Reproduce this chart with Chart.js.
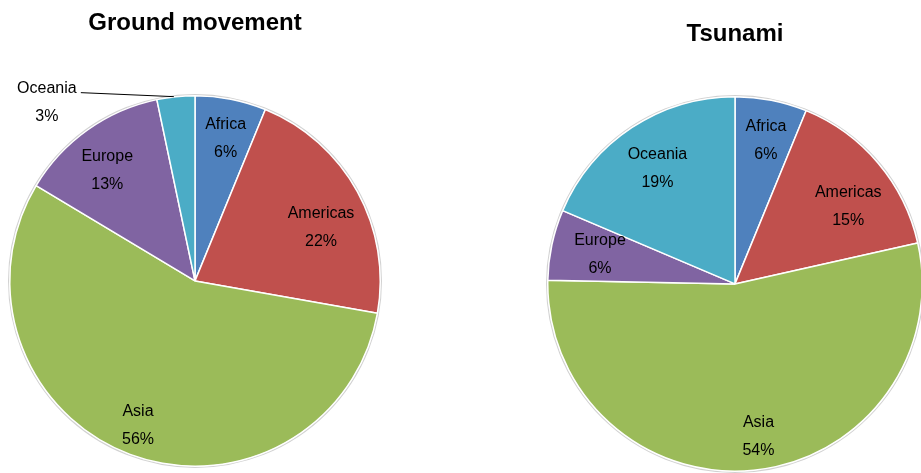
<!DOCTYPE html>
<html>
<head>
<meta charset="utf-8">
<script src="https://cdn.jsdelivr.net/npm/chart.js@4.4.3/dist/chart.umd.min.js"></script>
<style>
  html, body { margin: 0; padding: 0; background: #fff; overflow: hidden; }
  body { width: 921px; height: 473px; position: relative; }
  .box { position: absolute; top: 0; height: 473px; width: 390px; }
  #boxGround  { left: 0; }
  #boxTsunami { left: 540px; }
</style>
</head>
<body>
<div class="box" id="boxGround"><canvas id="chartGround"></canvas></div>
<div class="box" id="boxTsunami"><canvas id="chartTsunami"></canvas></div>
<script>
// ── Data (shares in %) ──────────────────────────────────────────────────────
const regions       = ['Africa', 'Americas', 'Asia', 'Europe', 'Oceania'];
const groundValues  = [6.2, 21.6, 55.8, 13.1, 3.3];
const tsunamiValues = [6.2, 15.3, 53.8, 6.1, 18.6];
const chartTitles   = ['Ground movement', 'Tsunami'];

const sliceColors = ['#4F81BD', '#C0504D', '#9BBB59', '#8064A2', '#4BACC6'];
const FONT = "'Liberation Sans', Arial, sans-serif";

// ── Slice labels: "Name" over "NN%" inside, small slices outside with a leader
const sliceLabels = {
  id: 'sliceLabels',
  afterDatasetsDraw(chart, args, opts) {
    const { ctx } = chart;
    const meta = chart.getDatasetMeta(0);
    const values = chart.data.datasets[0].data;
    const total = values.reduce((a, b) => a + b, 0);
    const nudge = opts.nudge || [];
    ctx.save();
    ctx.font = `16px ${FONT}`;
    ctx.fillStyle = '#000';
    ctx.textBaseline = 'middle';
    ctx.textAlign = 'center';
    meta.data.forEach((arc, i) => {
      const pct = Math.round(values[i] / total * 100) + '%';
      const name = chart.data.labels[i];
      const mid = (arc.startAngle + arc.endAngle) / 2;
      if (values[i] / total < opts.outsideBelow) {
        // leader line from the rim out to the left
        const px = arc.x + Math.cos(mid) * arc.outerRadius;
        const py = arc.y + Math.sin(mid) * arc.outerRadius;
        ctx.strokeStyle = '#000';
        ctx.lineWidth = 1;
        ctx.beginPath();
        ctx.moveTo(px - 2, py);
        ctx.lineTo(px - 95, py - 4);
        ctx.stroke();
        ctx.fillText(name, px - 129, py - 8);
        ctx.fillText(pct, px - 129, py + 20);
        return;
      }
      const [dx, dy] = nudge[i] || [0, 0];
      const r = arc.outerRadius * 0.77;
      const cx = arc.x + Math.cos(mid) * r + dx;
      const cy = arc.y + Math.sin(mid) * r + dy;
      ctx.fillText(name, cx, cy - 14);
      ctx.fillText(pct, cx, cy + 14);
    });
    ctx.restore();
  },
};

// faint grey rim around the pie
const pieRim = {
  id: 'pieRim',
  beforeDatasetsDraw(chart) {
    const arc = chart.getDatasetMeta(0).data[0];
    if (!arc) return;
    const { ctx } = chart;
    ctx.save();
    ctx.strokeStyle = 'rgba(0,0,0,0.18)';
    ctx.lineWidth = 1.5;
    ctx.beginPath();
    ctx.arc(arc.x, arc.y, arc.outerRadius + 1, 0, Math.PI * 2);
    ctx.stroke();
    ctx.restore();
  },
};

function buildPie(canvasId, title, values, layout) {
  return new Chart(document.getElementById(canvasId), {
    type: 'pie',
    data: {
      labels: regions,
      datasets: [{
        data: values,
        backgroundColor: sliceColors,
        borderColor: '#fff',
        borderWidth: 1.5,
      }],
    },
    options: {
      responsive: true,
      maintainAspectRatio: false,
      animation: false,
      layout: { padding: layout.padding },
      plugins: {
        legend: { display: false },
        tooltip: { enabled: false },
        title: {
          display: true,
          text: title,
          color: '#000',
          font: { family: FONT, size: 24, weight: 'bold', lineHeight: 1.2 },
          padding: layout.titlePadding,
        },
        sliceLabels: { outsideBelow: 0.05, nudge: layout.nudge },
      },
    },
    plugins: [pieRim, sliceLabels],
  });
}

buildPie('chartGround', chartTitles[0], groundValues, {
  padding: { left: 9, right: 9, top: 0, bottom: 6 },
  titlePadding: { top: 9, bottom: 57 },
  nudge: [[3, -2], [1, 15], [-7, 11], [-5, 6], [0, 0]],
});

buildPie('chartTsunami', chartTitles[1], tsunamiValues, {
  padding: { left: 7, right: 7, top: 0, bottom: 1 },
  titlePadding: { top: 20, bottom: 47 },
  nudge: [[3, -2], [3, 16], [9, 9], [6, 1], [2, 5]],
});
</script>
</body>
</html>
